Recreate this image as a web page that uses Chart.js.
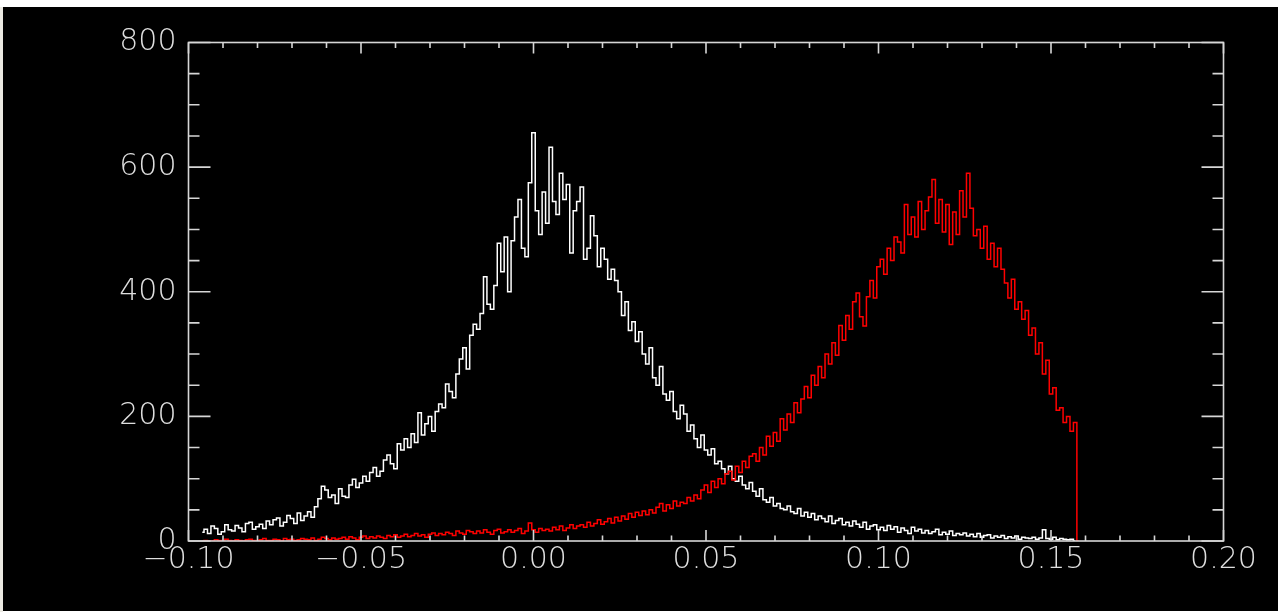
<!doctype html>
<html lang="en">
<head>
  <meta charset="utf-8">
  <title>Histogram</title>
  <style>
    html, body {
      margin: 0;
      padding: 0;
      background: #fff;
      overflow: hidden;
    }
    .wrap {
      position: absolute;
      left: 0;
      top: 0;
      width: 1278px;
      height: 612px;
    }
  </style>
</head>
<body>
  <div class="wrap"><canvas id="histChart"></canvas></div>

  <script src="https://cdn.jsdelivr.net/npm/chart.js"></script>
  <script>
    // histogram bins: first bin centre and bin width
    const BIN_START = -0.096;
    const BIN_WIDTH = 0.001;

    // white histogram counts, one per bin
    const whiteCounts = [
      14, 19, 12, 24, 20, 11, 15, 26, 18, 16,
      25, 21, 15, 28, 30, 19, 23, 27, 20, 32,
      26, 34, 37, 24, 30, 41, 36, 28, 45, 33,
      40, 47, 38, 55, 68, 88, 82, 70, 74, 60,
      84, 72, 70, 90, 99, 86, 93, 104, 96, 110,
      118, 104, 112, 130, 138, 124, 116, 156, 146, 164,
      150, 172, 158, 206, 170, 188, 200, 176, 208, 220,
      214, 252, 240, 230, 268, 292, 310, 276, 330, 348,
      340, 365, 424, 380, 372, 410, 478, 432, 488, 400,
      482, 520, 548, 470, 456, 575, 655, 530, 492, 560,
      510, 632, 545, 524, 590, 548, 572, 462, 530, 545,
      568, 452, 470, 522, 490, 440, 470, 452, 420, 436,
      418, 400, 362, 384, 338, 352, 320, 336, 300, 284,
      310, 262, 250, 280, 236, 226, 240, 208, 196, 218,
      204, 176, 186, 164, 150, 170, 146, 138, 148, 124,
      128, 116, 108, 120, 100, 96, 104, 90, 84, 94,
      80, 72, 84, 66, 62, 70, 56, 60, 52, 50,
      56, 47, 44, 52, 40, 46, 38, 44, 34, 40,
      36, 31, 40, 28, 33, 36, 26, 30, 24, 32,
      27, 22, 30, 19, 24, 26, 18, 22, 17, 25,
      19, 23, 14, 21, 17, 12, 22, 16, 19, 13,
      17, 12, 15, 19, 10, 14, 11, 16, 9, 12,
      10, 13, 8, 11, 7, 12, 6, 9, 10, 5,
      8, 6, 9, 4, 7, 5, 8, 3, 6, 5,
      4, 6, 3, 5, 18, 4, 3, 6, 2, 4,
      3, 2, 3, 0
    ];

    // red histogram counts, same bins (last bin is the drop to zero)
    const redCounts = [
      0, 1, 0, 0, 2, 1, 0, 3, 1, 0,
      2, 1, 0, 2, 3, 1, 0, 2, 4, 1,
      1, 3, 2, 0, 4, 2, 3, 1, 2, 4,
      3, 2, 5, 1, 3, 6, 4, 2, 5, 3,
      4, 6, 3, 7, 5, 2, 6, 8, 4, 7,
      5, 8, 6, 4, 9, 7, 10, 6, 8, 11,
      7, 9, 12, 8, 10, 6, 11, 13, 9, 12,
      10, 14, 12, 9, 16, 13, 11, 17, 15, 12,
      16, 13, 18, 14, 11, 17, 19, 13, 15, 18,
      14, 17, 20, 12, 16, 29, 18, 14, 20, 17,
      19, 16, 22, 18, 24, 17, 21, 26, 20, 24,
      26, 22, 30, 24, 28, 34, 27, 31, 36, 29,
      38, 32, 40, 35, 44, 38, 46, 41, 48, 42,
      50, 45, 54, 60, 48, 58, 52, 64, 56, 62,
      60, 70, 64, 74, 68, 82, 90, 78, 96, 86,
      100, 92, 108, 112, 98, 120, 110, 128, 118, 136,
      140, 128, 150, 138, 168, 152, 174, 160, 196, 178,
      204, 190, 222, 206, 228, 248, 230, 266, 250, 280,
      262, 300, 284, 318, 298, 346, 322, 362, 340, 384,
      398, 360, 345, 392, 418, 390, 440, 452, 428, 470,
      450, 488, 480, 462, 540, 492, 520, 488, 545, 500,
      530, 552, 580, 510, 548, 496, 540, 476, 528, 492,
      562, 520, 590, 534, 490, 500, 470, 505, 452, 478,
      440, 470, 436, 414, 390, 420, 372, 384, 356, 370,
      330, 342, 300, 318, 268, 290, 236, 246, 210, 214,
      190, 200, 176, 190, 0
    ];

    // axis ticks
    const xTicks = [-0.10, -0.05, 0.00, 0.05, 0.10, 0.15, 0.20];
    const yTicks = [0, 200, 400, 600, 800];
    const X_MINOR_STEP = 0.01;
    const Y_MINOR_STEP = 50;

    const W = 1278, H = 612;
    const AXIS_COLOR = '#d6d6d6';
    const LABEL_FONT = { family: "'DejaVu Sans', sans-serif", size: 30, weight: '200' };

    function toPoints(counts) {
      return counts.map((y, i) => ({ x: BIN_START + i * BIN_WIDTH, y }));
    }

    function fmtX(v) {
      if (Math.abs(v) < 1e-9) return '0.00';
      return v.toFixed(2).replace('-', '\u2212');
    }

    // black panel, box and inward ticks (IDL style)
    const frame = {
      id: 'frame',
      beforeDraw(chart) {
        const c = chart.ctx;
        c.save();
        c.fillStyle = '#ffffff';
        c.fillRect(0, 0, W, H);
        c.fillStyle = '#ebe9e2';
        c.fillRect(0, 7, 3, H - 7);
        c.fillStyle = '#000000';
        c.fillRect(3, 7, W - 3, H - 8);
        c.restore();
      },
      afterDatasetsDraw(chart) {
        const c = chart.ctx;
        const a = chart.chartArea;
        const sx = chart.scales.x, sy = chart.scales.y;
        c.save();
        c.strokeStyle = AXIS_COLOR;
        c.lineWidth = 1.6;
        c.strokeRect(a.left, a.top, a.right - a.left, a.bottom - a.top);

        c.beginPath();
        const xMinorN = Math.round((sx.max - sx.min) / X_MINOR_STEP);
        for (let i = 0; i <= xMinorN; i++) {
          const px = sx.getPixelForValue(sx.min + i * X_MINOR_STEP);
          const len = (i % 5 === 0) ? 11 : 5.5;
          c.moveTo(px, a.bottom); c.lineTo(px, a.bottom - len);
          c.moveTo(px, a.top); c.lineTo(px, a.top + len);
        }
        const yMinorN = Math.round((sy.max - sy.min) / Y_MINOR_STEP);
        for (let i = 0; i <= yMinorN; i++) {
          const py = sy.getPixelForValue(sy.min + i * Y_MINOR_STEP);
          const len = (i % 4 === 0) ? 22 : 11;
          c.moveTo(a.left, py); c.lineTo(a.left + len, py);
          c.moveTo(a.right, py); c.lineTo(a.right - len, py);
        }
        c.stroke();
        c.restore();
      }
    };

    const ctx = document.getElementById('histChart').getContext('2d');
    new Chart(ctx, {
      type: 'line',
      data: {
        datasets: [
          {
            data: toPoints(redCounts),
            borderColor: '#ff0000',
            borderWidth: 1.5,
            stepped: 'middle',
            pointRadius: 0,
            fill: false
          },
          {
            data: toPoints(whiteCounts),
            borderColor: '#ffffff',
            borderWidth: 1.5,
            stepped: 'middle',
            pointRadius: 0,
            fill: false
          }
        ]
      },
      options: {
        responsive: true,
        maintainAspectRatio: false,
        animation: false,
        layout: { padding: { left: 0, top: 42.5, right: 54.5, bottom: 0 } },
        plugins: {
          legend: { display: false },
          tooltip: { enabled: false }
        },
        scales: {
          x: {
            type: 'linear',
            min: -0.10,
            max: 0.20,
            grid: { display: false, drawTicks: false },
            border: { display: false },
            afterBuildTicks: s => { s.ticks = xTicks.map(v => ({ value: v })); },
            afterFit: s => { s.height = H - 541; },
            ticks: {
              color: '#dedede',
              font: LABEL_FONT,
              padding: 1,
              maxRotation: 0,
              autoSkip: false,
              callback: v => fmtX(v)
            }
          },
          y: {
            type: 'linear',
            min: 0,
            max: 800,
            grid: { display: false, drawTicks: false },
            border: { display: false },
            afterBuildTicks: s => { s.ticks = yTicks.map(v => ({ value: v })); },
            afterFit: s => { s.width = 188.5; },
            ticks: {
              color: '#dedede',
              font: LABEL_FONT,
              padding: 12,
              callback: v => String(v)
            }
          }
        }
      },
      plugins: [frame]
    });
  </script>
</body>
</html>
